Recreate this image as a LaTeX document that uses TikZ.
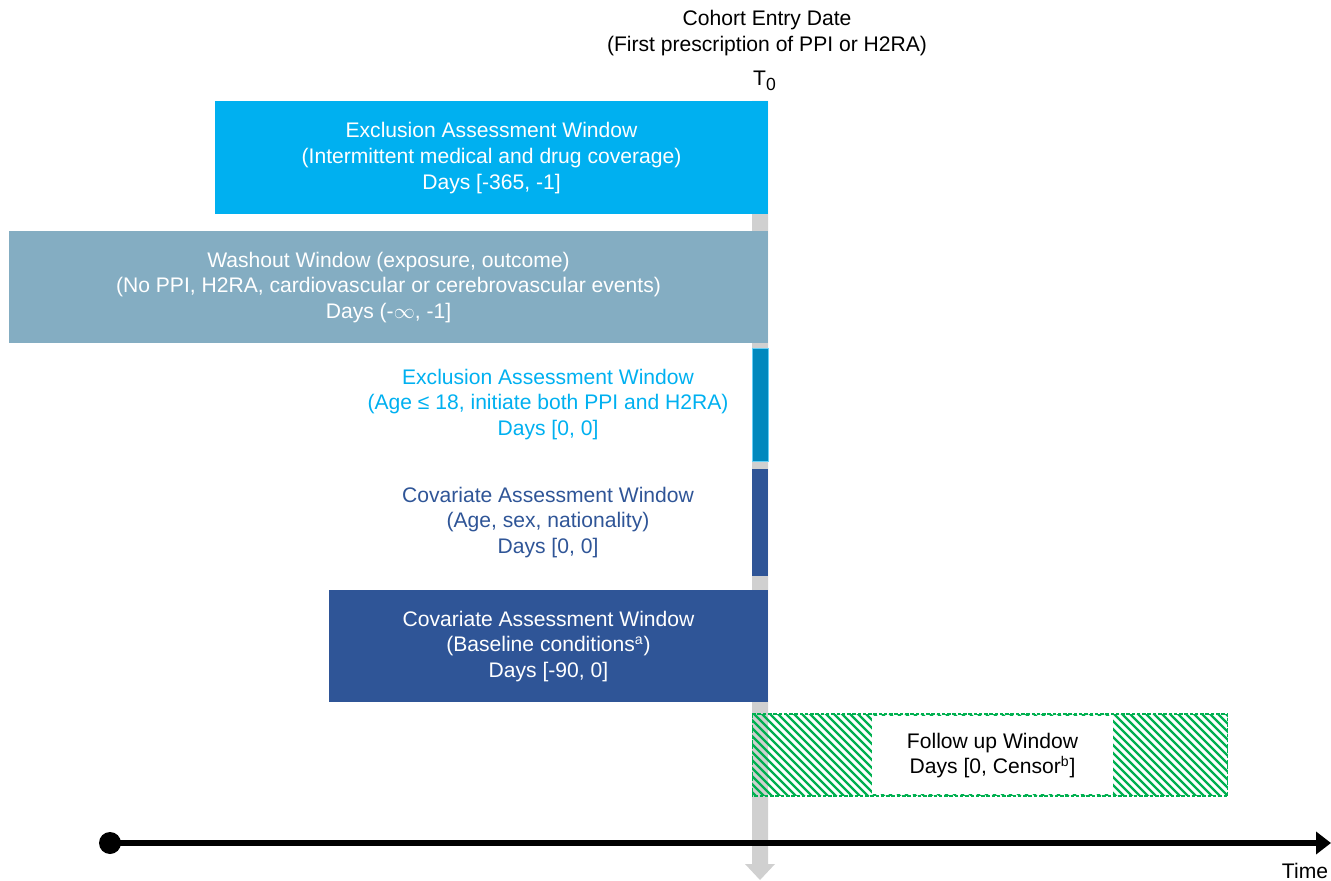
\documentclass[tikz,border=0pt]{standalone}
\usepackage{fontspec}
\setmainfont{Liberation Sans}
\usetikzlibrary{arrows.meta}
\definecolor{cyanA}{RGB}{0,176,240}
\definecolor{washA}{RGB}{132,173,194}
\definecolor{barA}{RGB}{0,137,190}
\definecolor{navyA}{RGB}{47,85,151}
\definecolor{grayA}{RGB}{208,208,208}
\definecolor{greenA}{RGB}{0,176,80}
\tikzset{
  winbox/.style={rectangle, inner sep=0pt, outer sep=0pt, draw=none},
  lbl/.style={align=center, inner sep=0pt, font=\fontsize{12}{14.7}\selectfont},
  hatchline/.style={draw=greenA, line width=1.3pt},
}
\begin{document}
\begin{tikzpicture}[x=0.02cm,y=-0.02cm]
\useasboundingbox (0,0) rectangle (1331,881);
% gray T0 arrow
\fill[grayA] (752,101) -- (768,101) -- (768,864) -- (775,864) -- (760,880) -- (745,864) -- (752,864) -- cycle;
% header
\node[lbl] (cohort) at (767,33) {Cohort Entry Date\\(First prescription of PPI or H2RA)};
\node[lbl] (tzero) at (765,81) {T\textsubscript{\fontsize{10}{10}\selectfont 0}};
% box 1
\node[winbox, fill=cyanA, minimum width=11.06cm, minimum height=2.26cm] (excl1) at (491.5,157.5) {};
\node[lbl, text=white] (excl1t) at (491.5,158) {Exclusion Assessment Window\\(Intermittent medical and drug coverage)\\Days [-365, -1]};
% box 2
\node[winbox, fill=washA, minimum width=15.18cm, minimum height=2.24cm] (wash) at (388.5,287) {};
\node[lbl, text=white] (washt) at (388.5,287.5) {Washout Window (exposure, outcome)\\(No PPI, H2RA, cardiovascular or cerebrovascular events)\\Days (-$\infty$, -1]};
% bar 3
\node[winbox, fill=barA, draw=cyanA!60, line width=0.3pt, minimum width=0.32cm, minimum height=2.26cm] (excl2) at (760,404.5) {};
\node[lbl, text=cyanA] (excl2t) at (548,404.5) {Exclusion Assessment Window\\(Age ≤ 18, initiate both PPI and H2RA)\\Days [0, 0]};
% bar 4
\node[winbox, fill=navyA, minimum width=0.32cm, minimum height=2.14cm] (cov1) at (760,522.5) {};
\node[lbl, text=navyA] (cov1t) at (548,522.5) {Covariate Assessment Window\\(Age, sex, nationality)\\Days [0, 0]};
% box 5
\node[winbox, fill=navyA, minimum width=8.78cm, minimum height=2.24cm] (cov2) at (548.5,646) {};
\node[lbl, text=white] (cov2t) at (548.5,646.5) {Covariate Assessment Window\\(Baseline conditions\textsuperscript{a})\\Days [-90, 0]};
% follow up
\node[winbox, minimum width=9.52cm, minimum height=1.64cm] (fu) at (990,755) {};
\begin{scope}
\clip (fu.north west) rectangle (fu.south east);
\foreach \k in {662,670,...,1238} \draw[hatchline] (\k,710) -- ++(90,90);
\end{scope}
\draw[greenA, dash pattern=on 2pt off 1pt, line width=0.6pt] (fu.north west) rectangle (fu.south east);
\node[winbox, fill=white, minimum width=4.82cm, minimum height=1.56cm] (fuin) at (992.5,755) {};
\node[lbl] (fut) at (992.5,755.5) {Follow up Window\\Days [0, Censor\textsuperscript{b}]};
% timeline
\node[circle, fill=black, inner sep=0pt, minimum size=0.44cm] (tstart) at (110,843) {};
\coordinate (tend) at (1331,843);
\draw[line width=3.4pt, -{Triangle[length=0.3cm,width=0.44cm]}] (tstart.center) -- (tend);
\node[lbl] (time) at (1305,871) {Time};
\end{tikzpicture}
\end{document}
